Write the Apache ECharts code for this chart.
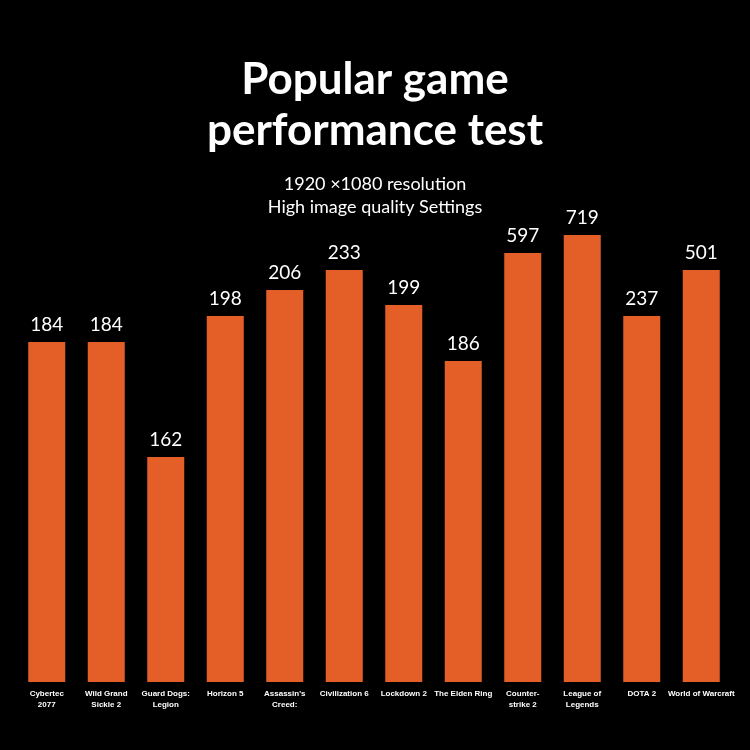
<!DOCTYPE html>
<html><head><meta charset="utf-8">
<script src="https://cdn.jsdelivr.net/npm/echarts@6/dist/echarts.min.js"></script>
<style>html,body{margin:0;background:#000}#c{width:750px;height:750px}</style>
</head><body><div id="c"></div>
<script>
const categories=["Cybertec\n2077","Wild Grand\nSickle 2","Guard Dogs:\nLegion","Horizon 5","Assassin's\nCreed:","Civilization 6","Lockdown 2","The Elden Ring","Counter-\nstrike 2","League of\nLegends","DOTA 2","World of Warcraft"];
const fpsValues=[184,184,162,198,206,233,199,186,597,719,237,501];
const barHeights=[340,340,225,366,392,412,377,321,429,447,366,412];
const chart=echarts.init(document.getElementById('c'));
chart.setOption({
 backgroundColor:'#000',
 title:[{text:'Popular game\nperformance test',left:'center',top:49,textStyle:{color:'#fff',fontSize:44,fontWeight:'bold',fontFamily:'Lato',lineHeight:51}},
  {text:'1920 ×1080 resolution\nHigh image quality Settings',left:'center',top:168,textStyle:{color:'#fff',fontSize:18,fontWeight:'normal',fontFamily:'Lato',lineHeight:23}}],
 grid:{left:17,right:19,top:222,bottom:68},
 xAxis:{type:'category',data:categories,axisLine:{show:false},axisTick:{show:false},
  axisLabel:{color:'#fff',fontSize:8,fontWeight:'bold',fontFamily:'Arial',interval:0,lineHeight:11,margin:6}},
 yAxis:{type:'value',min:0,max:460,show:false,splitLine:{show:false}},
 series:[{type:'bar',barWidth:37,data:barHeights,itemStyle:{color:'#e45e28'},
  label:{show:true,position:'top',distance:8,color:'#fff',fontSize:19,fontFamily:'Lato',formatter:p=>fpsValues[p.dataIndex]}}]
});
</script></body></html>
